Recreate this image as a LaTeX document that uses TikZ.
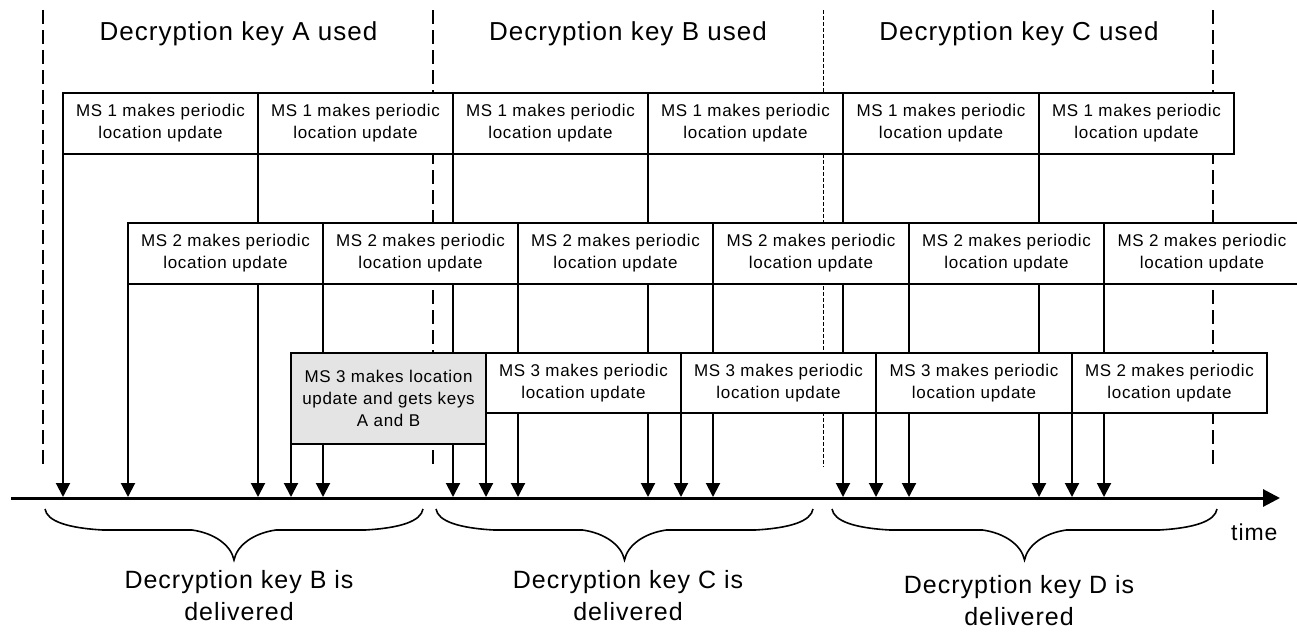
\documentclass[tikz,border=0pt]{standalone}
\usepackage{fontspec}
\newfontfamily\lsf{Liberation Sans}[LetterSpace=4]
\usetikzlibrary{arrows.meta}
\definecolor{boxgray}{RGB}{228,228,228}
\pgfdeclarelayer{bg}
\pgfsetlayers{bg,main}
\begin{document}
\begin{tikzpicture}[x=1pt,y=-1pt,
  box/.style={draw, line width=2pt, fill=white, minimum width=195pt, minimum height=61pt,
    inner sep=0pt, outer sep=0pt, anchor=north west, align=center,
    font=\lsf\fontsize{17}{22}\selectfont},
  box3/.style={box, minimum height=60pt},
  graybox/.style={box, fill=boxgray, minimum width=195pt, minimum height=91pt},
  varr/.style={line width=2pt, -{Triangle[length=14pt,width=14pt]}},
  keyline/.style={line width=2pt, dash pattern=on 14pt off 6pt},
  thinkeyline/.style={line width=1pt, dash pattern=on 4pt off 2pt},
  hdr/.style={font=\lsf\fontsize{26}{30}\selectfont, inner sep=0pt},
  lbl/.style={font=\lsf\fontsize{25}{32}\selectfont, inner sep=0pt, align=center, anchor=north},
  bracestyle/.style={line width=1.6pt}]
\useasboundingbox (0,0) rectangle (1297,632);

% headers
\node[hdr, anchor=base] (hA) at (238.5,40) {Decryption key A used};
\node[hdr, anchor=base] (hB) at (628,40) {Decryption key B used};
\node[hdr, anchor=base] (hC) at (1019,40) {Decryption key C used};

% row 1
\foreach \x/\w [count=\i from 0] in {63/195, 258/195, 453/195, 648/195, 843/196, 1039/195}
  \node[box, minimum width=\w pt] (r1-\i) at (\x,93) {MS 1 makes periodic\\location update};
% row 2
\foreach \x/\w [count=\i from 0] in {128/195, 323/195, 518/195, 713/196, 909/195, 1104/196}
  \node[box, minimum width=\w pt] (r2-\i) at (\x,223) {MS 2 makes periodic\\location update};
% row 3
\node[graybox] (g3) at (291,353) {MS 3 makes location\\update and gets keys\\A and B};
\node[box3] (r3-0) at (486,353) {MS 3 makes periodic\\location update};
\node[box3] (r3-1) at (681,353) {MS 3 makes periodic\\location update};
\node[box3, minimum width=196pt] (r3-2) at (876,353) {MS 3 makes periodic\\location update};
\node[box3] (r3-3) at (1072,353) {MS 2 makes periodic\\location update};

% time axis
\coordinate (axs) at (11,498);
\coordinate (axe) at (1280,498);
\coordinate (axt) at (0,497);
\draw[line width=3pt, -{Triangle[length=17pt,width=17pt]}] (axs) -- (axe);
\node[font=\lsf\fontsize{23}{28}\selectfont, inner sep=0pt, anchor=base west] (time) at (1231,540) {time};

% background: key period lines and update arrows
\begin{pgfonlayer}{bg}
  \coordinate (k0t) at (43,10);   \coordinate (k0b) at (43,467);
  \coordinate (k1t) at (433,10);  \coordinate (k1b) at (433,467);
  \coordinate (k2t) at (823,10);  \coordinate (k2b) at (823,467);
  \coordinate (k3t) at (1213,10); \coordinate (k3b) at (1213,467);
  \draw[keyline] (k0t) -- (k0b);
  \draw[keyline] (k1t) -- (k1b);
  \draw[thinkeyline] (k2t) -- (k2b);
  \draw[keyline] (k3t) -- (k3b);
  \foreach \n in {r1-0,r1-1,r1-2,r1-3,r1-4,r1-5,r2-0,r2-1,r2-2,r2-3,r2-4,r2-5,g3,r3-0,r3-1,r3-2,r3-3}
    \draw[varr] (\n.south west) -- (\n.south west |- axt);
\end{pgfonlayer}

% braces
\foreach \a/\b in {45/423, 436/813, 832/1217} {
  \pgfmathsetmacro\m{(\a+\b)/2}
  \draw[bracestyle] (\a,509) .. controls (\a+2,521) and (\a+22,528) .. (\a+58,530)
    -- (\m-42,530) .. controls (\m-20,533) and (\m-3,545) .. (\m,560)
    .. controls (\m+3,545) and (\m+20,533) .. (\m+42,530)
    -- (\b-58,530) .. controls (\b-22,528) and (\b-2,521) .. (\b,509);
}

% delivery labels
\node[lbl] (dB) at (239,570) {Decryption key B is\\delivered};
\node[lbl] (dC) at (628,570) {Decryption key C is\\delivered};
\node[lbl] (dD) at (1019,575) {Decryption key D is\\delivered};
\end{tikzpicture}
\end{document}
